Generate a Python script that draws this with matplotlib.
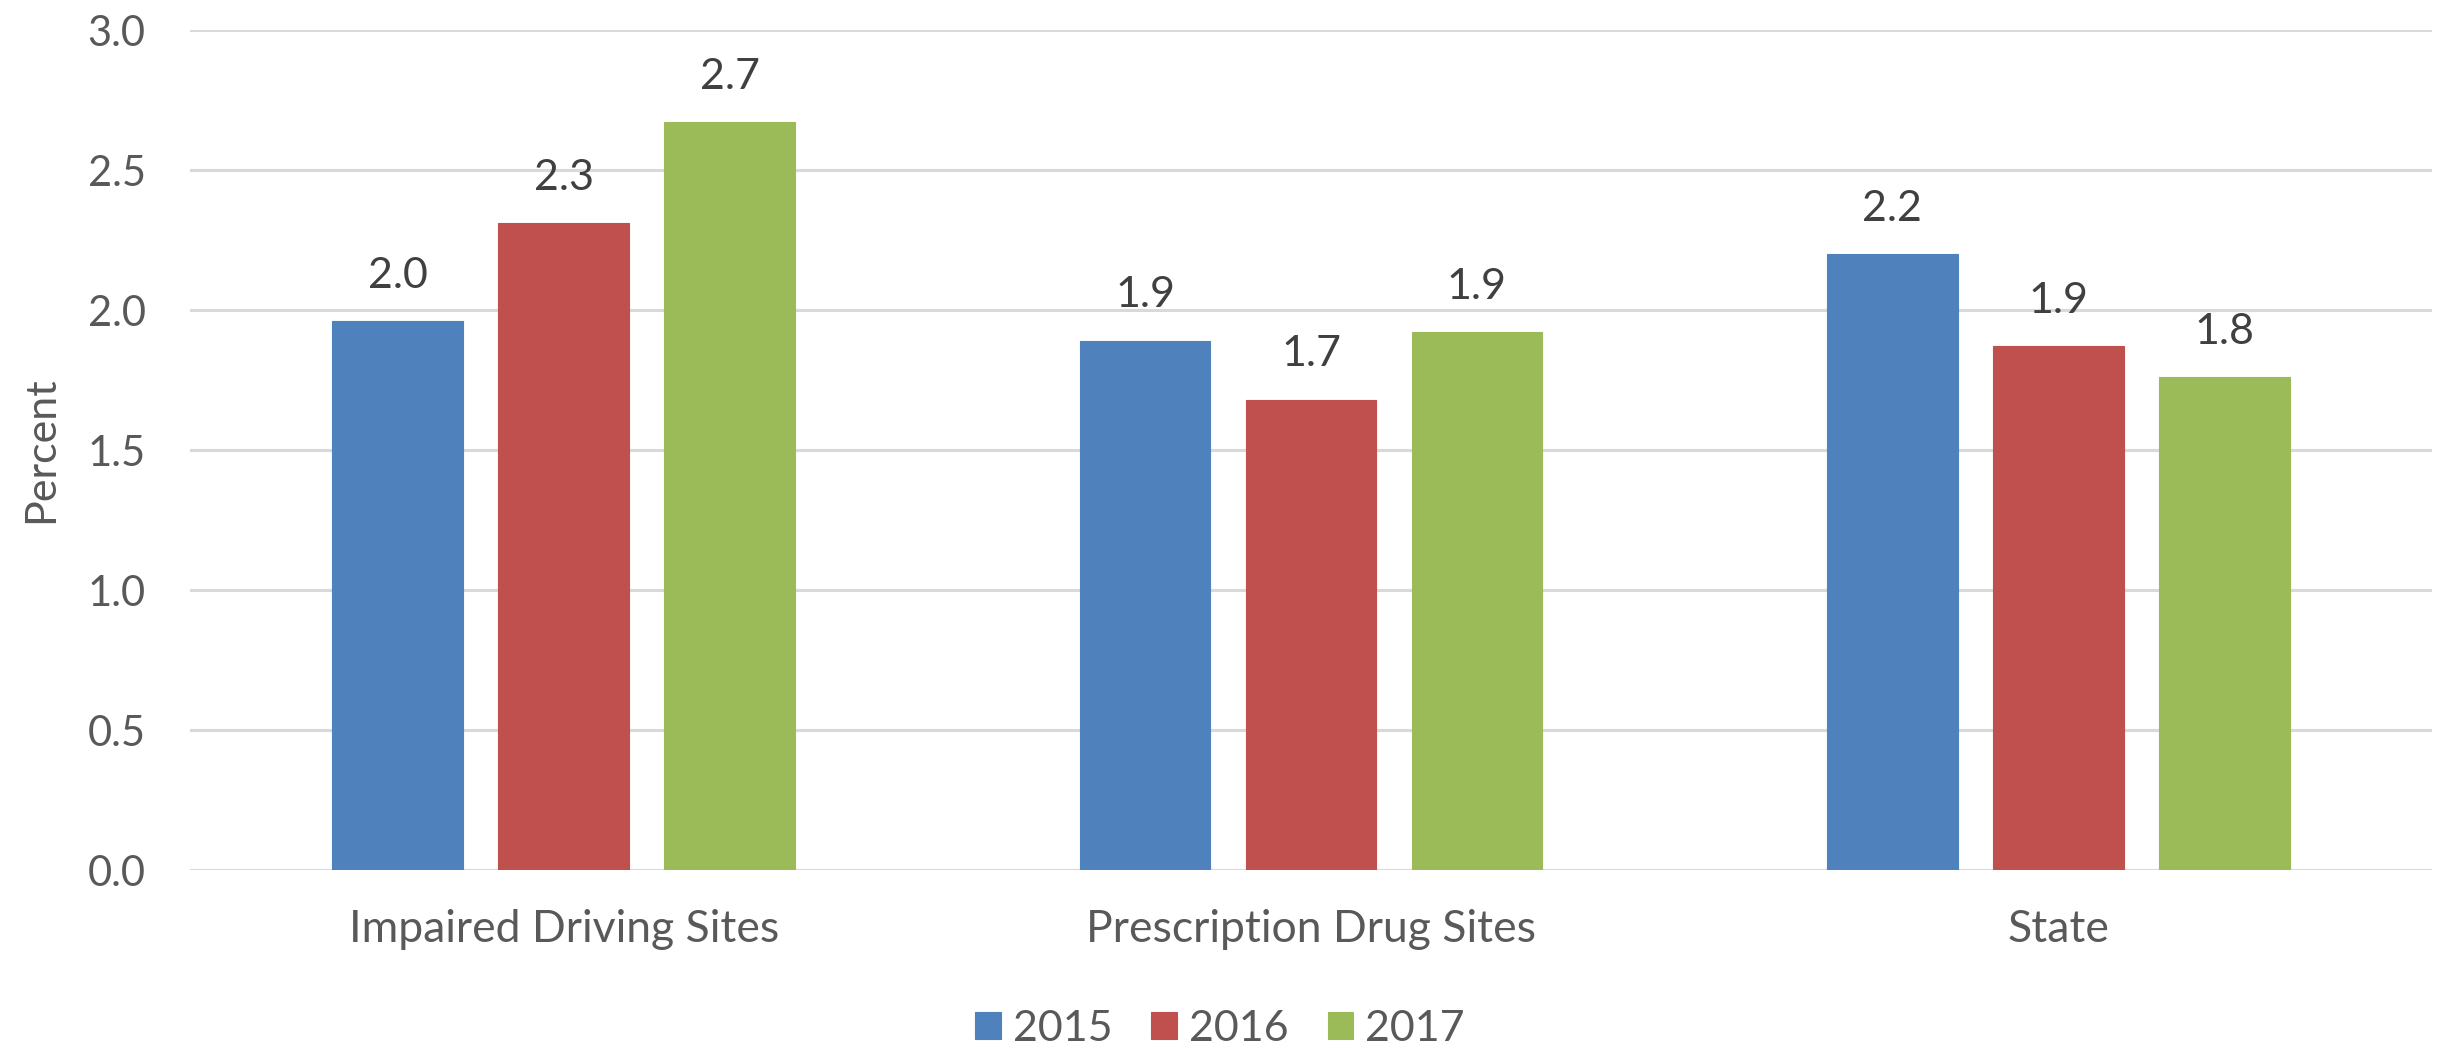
import matplotlib
matplotlib.use("Agg")
import matplotlib.pyplot as plt
import numpy as np

categories = ["Impaired Driving Sites", "Prescription Drug Sites", "State"]
years = ["2015", "2016", "2017"]
values_2015 = [1.96, 1.89, 2.20]
values_2016 = [2.31, 1.68, 1.87]
values_2017 = [2.67, 1.92, 1.76]
series = [values_2015, values_2016, values_2017]
colors = ["#4F81BD", "#C0504D", "#9BBB59"]
yticks = [0.0, 0.5, 1.0, 1.5, 2.0, 2.5, 3.0]

plt.rcParams['font.family'] = ['Lato', 'DejaVu Sans']

W, H = 2440, 1048
fig = plt.figure(figsize=(W / 100, H / 100), dpi=100)
ax = fig.add_axes([190 / W, 1 - 870 / H, 2242 / W, 840 / H])

x = np.arange(len(categories))
step = 0.222
width = 0.175
for i, (vals, col, yr) in enumerate(zip(series, colors, years)):
    pos = x + (i - 1) * step
    ax.bar(pos, vals, width=width, color=col, label=yr, zorder=3,
           edgecolor=col, linewidth=0.8)
    for xp, v in zip(pos, vals):
        ax.annotate(f"{v:.1f}", xy=(xp, v), xytext=(0, 24), textcoords="offset points",
                    ha="center", va="baseline", fontsize=31, color="#404040")

ax.set_xlim(-0.5, 2.5)
ax.set_ylim(0, 3.0)
ax.set_yticks(yticks)
ax.set_yticklabels([f"{t:.1f}" for t in yticks])
ax.set_xticks(x)
ax.set_xticklabels(categories)
ax.yaxis.grid(True, color="#D9D9D9", linewidth=2.2, zorder=0)
ax.set_axisbelow(True)
for s in ax.spines.values():
    s.set_visible(False)
ax.tick_params(axis="y", length=0, pad=32, labelsize=30, labelcolor="#595959")
ax.tick_params(axis="x", length=0, pad=28, labelsize=32, labelcolor="#595959")
ax.set_ylabel("Percent", fontsize=31, color="#595959", labelpad=20)

handles, labels = ax.get_legend_handles_labels()
leg = fig.legend(handles, labels, loc="center", bbox_to_anchor=(0.5, 1 - 1029 / H),
                 ncol=3, frameon=False, fontsize=31, labelcolor="#595959",
                 handlelength=0.6, handleheight=0.6, handletextpad=0.28,
                 columnspacing=0.9)

fig.savefig("out.png", dpi=100, facecolor="white")
